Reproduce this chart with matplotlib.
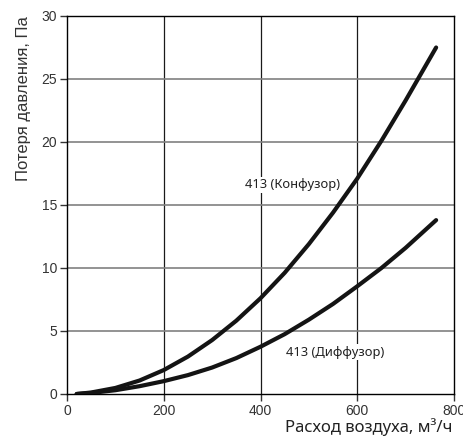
import matplotlib.pyplot as plt

flow = [20, 50, 100, 150, 200, 250, 300, 350, 400, 450, 500, 550, 600, 650, 700, 763]
konfuzor = [0.0, 0.12, 0.48, 1.07, 1.9, 2.97, 4.28, 5.82, 7.6, 9.62, 11.9, 14.4, 17.1, 20.1, 23.3, 27.5]
diffuzor = [0.0, 0.08, 0.3, 0.62, 1.02, 1.5, 2.1, 2.85, 3.75, 4.75, 5.9, 7.15, 8.55, 10.0, 11.6, 13.8]

x_ticks = [0, 200, 400, 600, 800]
y_ticks = [0, 5, 10, 15, 20, 25, 30]

fig = plt.figure(figsize=(4.63, 4.37), dpi=100)
ax = fig.add_axes([0.1447, 0.0984, 0.8359, 0.865])

ax.set_xlim(0, 800)
ax.set_ylim(0, 30)
ax.set_xticks(x_ticks)
ax.set_yticks(y_ticks)

# grid: dark vertical, grey horizontal
for xv in x_ticks[1:-1]:
    ax.axvline(xv, color="#1a1a1a", linewidth=0.9, zorder=1)
for yv in y_ticks[1:-1]:
    ax.axhline(yv, color="#808080", linewidth=1.2, zorder=1)

for series in (konfuzor, diffuzor):
    ax.plot(flow, series, color="#141414", linewidth=3.0,
            solid_capstyle="round", solid_joinstyle="round", zorder=3)

lbl = dict(fontsize=9.3, family="Noto Sans", color="#222222", va="center", ha="left",
           bbox=dict(facecolor="white", edgecolor="none", pad=1.0), zorder=2)
ax.text(367, 16.6, "413 (Конфузор)", **lbl)
ax.text(453, 3.3, "413 (Диффузор)", **lbl)

for s in ax.spines.values():
    s.set_color("black")
    s.set_linewidth(1.0)
ax.tick_params(direction="out", length=5, width=1, colors="#333333",
               labelsize=10, labelcolor="#333333", pad=2)
for t in ax.get_xticklabels() + ax.get_yticklabels():
    t.set_family("Liberation Sans")

ax.set_ylabel("Потеря давления, Па", fontsize=12, family="Liberation Sans",
              color="#333333", loc="top", labelpad=8)
fig.text(0.978, 0.002, "Расход воздуха, м³/ч", fontsize=12, family="Noto Sans",
         color="#222222", ha="right", va="bottom")

fig.savefig("out.png", dpi=100)
